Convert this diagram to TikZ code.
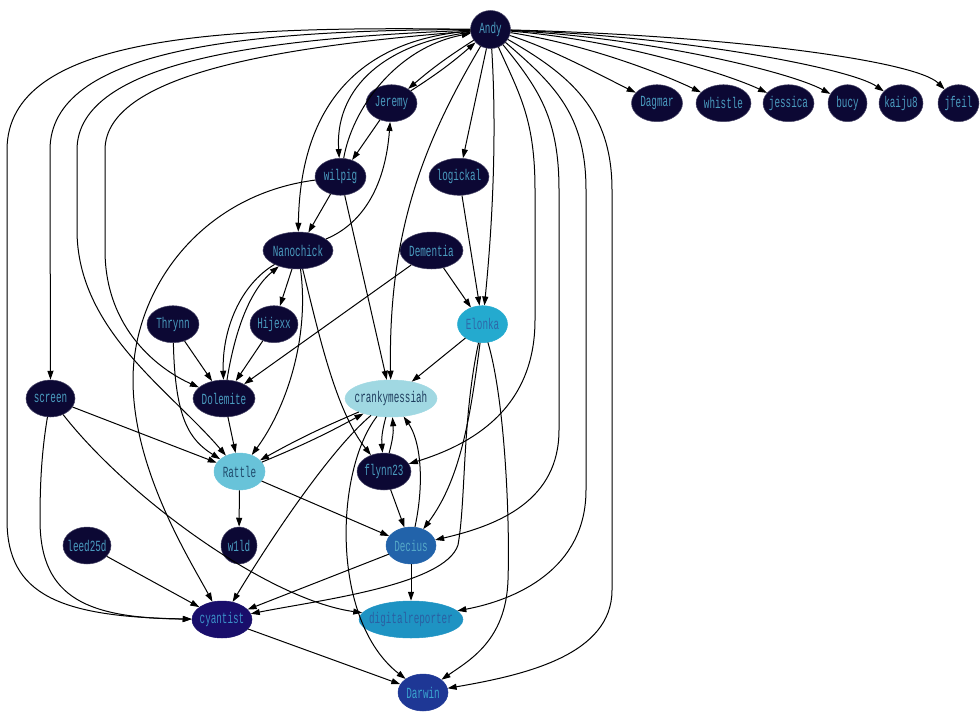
\documentclass[tikz,border=0pt]{standalone}
\usepackage{fontspec}
\newfontfamily\graphfont[FakeStretch=0.6]{Liberation Mono}
\usetikzlibrary{shapes.geometric}
\usetikzlibrary{arrows.meta}
\definecolor{inkfill}{HTML}{0C0834}
\definecolor{inktext}{HTML}{4A9BBF}
\definecolor{palefill}{HTML}{A0D8E2}
\definecolor{paletext}{HTML}{1E3D5E}
\definecolor{skyfill}{HTML}{68C3D9}
\definecolor{skytext}{HTML}{1F4B6C}
\definecolor{azurefill}{HTML}{24AACF}
\definecolor{azuretext}{HTML}{2E67A8}
\definecolor{cobaltfill}{HTML}{2263AA}
\definecolor{cobalttext}{HTML}{55A8C8}
\definecolor{ceruleanfill}{HTML}{1E93C3}
\definecolor{ceruleantext}{HTML}{2A5FA2}
\definecolor{indigofill}{HTML}{190E6B}
\definecolor{indigotext}{HTML}{3B8FC8}
\definecolor{royalfill}{HTML}{1E3795}
\definecolor{royaltext}{HTML}{3AA3CF}
\newcommand{\nm}[1]{\makebox[0pt]{#1}}
\tikzset{
  vertex/.style={ellipse, inner sep=0pt, minimum height=37pt, line width=0.5pt, font=\graphfont\fontsize{15.5}{15.5}\selectfont},
  ink/.style={vertex, fill=inkfill, draw=inkfill!75!white, text=inktext},
  pale/.style={vertex, fill=palefill, draw=palefill, text=paletext},
  sky/.style={vertex, fill=skyfill, draw=skyfill, text=skytext},
  azure/.style={vertex, fill=azurefill, draw=azurefill, text=azuretext},
  cobalt/.style={vertex, fill=cobaltfill, draw=cobaltfill, text=cobalttext},
  cerulean/.style={vertex, fill=ceruleanfill, draw=ceruleanfill, text=ceruleantext},
  indigo/.style={vertex, fill=indigofill, draw=indigofill, text=indigotext},
  royal/.style={vertex, fill=royalfill, draw=royalfill, text=royaltext},
  link/.style={-{Triangle[length=9pt,width=6pt]}, line width=1pt, black}
}

\begin{document}
\begin{tikzpicture}[x=1pt,y=-1pt]
\useasboundingbox (0,0) rectangle (980,720);

\node[ink, minimum width=40pt, minimum height=38pt] (Andy) at (490.5,29.5) {\nm{Andy}};
\node[ink, minimum width=51pt] (Jeremy) at (391.5,103.2) {\nm{Jeremy}};
\node[ink, minimum width=51pt] (wilpig) at (340.5,176.8) {\nm{wilpig}};
\node[ink, minimum width=60pt] (logickal) at (459,176.8) {\nm{logickal}};
\node[ink, minimum width=51pt] (Dagmar) at (657,103.2) {\nm{Dagmar}};
\node[ink, minimum width=55pt] (whistle) at (723.5,103.2) {\nm{whistle}};
\node[ink, minimum width=51pt] (jessica) at (788.5,103.2) {\nm{jessica}};
\node[ink, minimum width=39pt] (bucy) at (847.5,103.2) {\nm{bucy}};
\node[ink, minimum width=44pt] (kaiju8) at (901,103.2) {\nm{kaiju8}};
\node[ink, minimum width=41pt] (jfeil) at (958.5,103.2) {\nm{jfeil}};
\node[ink, minimum width=70pt] (Nanochick) at (298,250.5) {\nm{Nanochick}};
\node[ink, minimum width=63pt] (Dementia) at (431.5,250.5) {\nm{Dementia}};
\node[ink, minimum width=52pt] (Thrynn) at (173,324.2) {\nm{Thrynn}};
\node[ink, minimum width=48pt] (Hijexx) at (274,324.2) {\nm{Hijexx}};
\node[azure, minimum width=50pt] (Elonka) at (482.5,324.2) {\nm{Elonka}};
\node[ink, minimum width=49pt] (screen) at (50.5,398.5) {\nm{screen}};
\node[ink, minimum width=62pt] (Dolemite) at (224,398.5) {\nm{Dolemite}};
\node[pale, minimum width=92pt] (crankymessiah) at (391,398.5) {\nm{crankymessiah}};
\node[sky, minimum width=51pt] (Rattle) at (239.5,471.5) {\nm{Rattle}};
\node[ink, minimum width=54pt] (flynn23) at (384,471.5) {\nm{flynn23}};
\node[ink, minimum width=48pt] (leed25d) at (87,545.5) {\nm{leed25d}};
\node[ink, minimum width=36pt] (w1ld) at (239,545.5) {\nm{w1ld}};
\node[cobalt, minimum width=50pt] (Decius) at (411,545.5) {\nm{Decius}};
\node[indigo, minimum width=60pt] (cyantist) at (222,619.5) {\nm{cyantist}};
\node[cerulean, minimum width=104pt] (digitalreporter) at (411,619.5) {\nm{digitalreporter}};
\node[royal, minimum width=50pt] (Darwin) at (423,692.5) {\nm{Darwin}};

\draw[link] (Andy) to[bend right=4] (Jeremy);
\draw[link] (Jeremy) to[bend right=4] (Andy);
\draw[link] (Andy) .. controls (375,45) and (335,95) .. (wilpig);
\draw[link] (wilpig) .. controls (352,110) and (395,48) .. (Andy);
\draw[link] (Andy) .. controls (355,40) and (300,110) .. (Nanochick);
\draw[link] (Andy) .. controls (425,140) and (388,230) .. (crankymessiah);
\draw[link] (Andy) -- (logickal);
\draw[link] (Andy) .. controls (498,150) and (490,250) .. (Elonka);
\draw[link] (Andy) .. controls (550,48) and (600,75) .. (Dagmar);
\draw[link] (Andy) .. controls (590,45) and (665,75) .. (whistle);
\draw[link] (Andy) .. controls (620,40) and (730,75) .. (jessica);
\draw[link] (Andy) .. controls (650,38) and (790,72) .. (bucy);
\draw[link] (Andy) .. controls (680,36) and (850,68) .. (kaiju8);
\draw[link] (Andy) .. controls (720,35) and (915,60) .. (jfeil);
\draw[link] (Andy) .. controls (520,95) and (535,120) .. (535,190) -- (535,320) .. controls (535,410) and (470,445) .. (flynn23);
\draw[link] (Andy) .. controls (540,90) and (559,120) .. (559,190) -- (559,430) .. controls (559,500) and (500,525) .. (Decius);
\draw[link] (Andy) .. controls (555,85) and (586,115) .. (586,190) -- (586,490) .. controls (586,570) and (515,600) .. (digitalreporter);
\draw[link] (Andy) .. controls (570,75) and (612,110) .. (612,190) -- (612,590) .. controls (612,655) and (525,675) .. (Darwin);
\draw[link] (Andy) .. controls (220,26) and (7,35) .. (7,150) -- (7,520) .. controls (7,595) and (60,617) .. (cyantist);
\draw[link] (Andy) .. controls (240,30) and (50,50) .. (50,150) -- (screen);
\draw[link] (Andy) .. controls (270,38) and (77,60) .. (77,150) -- (77,230) .. controls (77,330) and (170,390) .. (Rattle);
\draw[link] (Andy) .. controls (300,45) and (105,70) .. (105,150) -- (105,250) .. controls (105,330) and (160,370) .. (Dolemite);

\draw[link] (Jeremy) -- (wilpig);
\draw[link] (Nanochick) .. controls (360,225) and (385,190) .. (Jeremy);
\draw[link] (wilpig) -- (Nanochick);
\draw[link] (wilpig) .. controls (200,195) and (133,290) .. (133,380) .. controls (133,470) and (190,560) .. (cyantist);
\draw[link] (wilpig) -- (crankymessiah);
\draw[link] (logickal) -- (Elonka);
\draw[link] (Nanochick) -- (Hijexx);
\draw[link] (Nanochick) .. controls (240,285) and (222,330) .. (Dolemite);
\draw[link] (Dolemite) .. controls (235,330) and (250,290) .. (Nanochick);
\draw[link] (Nanochick) .. controls (310,340) and (285,410) .. (Rattle);
\draw[link] (Nanochick) .. controls (318,330) and (335,410) .. (flynn23);
\draw[link] (Dementia) -- (Dolemite);
\draw[link] (Dementia) -- (Elonka);
\draw[link] (Thrynn) -- (Dolemite);
\draw[link] (Thrynn) .. controls (175,420) and (190,440) .. (Rattle);
\draw[link] (Hijexx) -- (Dolemite);
\draw[link] (Elonka) -- (crankymessiah);
\draw[link] (Elonka) .. controls (470,420) and (460,480) .. (Decius);
\draw[link] (Elonka) .. controls (462,420) and (466,500) .. (458,545) .. controls (445,585) and (320,600) .. (cyantist);
\draw[link] (Elonka) .. controls (505,400) and (510,520) .. (508,580) .. controls (506,640) and (470,660) .. (Darwin);
\draw[link] (screen) -- (Rattle);
\draw[link] (screen) .. controls (42,450) and (40,480) .. (40,520) .. controls (40,600) and (90,618) .. (cyantist);
\draw[link] (screen) .. controls (130,500) and (270,600) .. (digitalreporter);
\draw[link] (Dolemite) -- (Rattle);
\draw[link] (crankymessiah) to[bend right=3] (Rattle);
\draw[link] (Rattle) to[bend right=3] (crankymessiah);
\draw[link] (crankymessiah) to[bend right=10] (flynn23);
\draw[link] (flynn23) to[bend right=10] (crankymessiah);
\draw[link] (crankymessiah) .. controls (330,450) and (270,540) .. (cyantist);
\draw[link] (crankymessiah) .. controls (335,470) and (330,620) .. (Darwin);
\draw[link] (Decius) .. controls (425,480) and (420,440) .. (crankymessiah);
\draw[link] (Rattle) -- (w1ld);
\draw[link] (Rattle) -- (Decius);
\draw[link] (flynn23) -- (Decius);
\draw[link] (leed25d) -- (cyantist);
\draw[link] (Decius) -- (cyantist);
\draw[link] (Decius) -- (digitalreporter);
\draw[link] (cyantist) -- (Darwin);

\end{tikzpicture}
\end{document}
